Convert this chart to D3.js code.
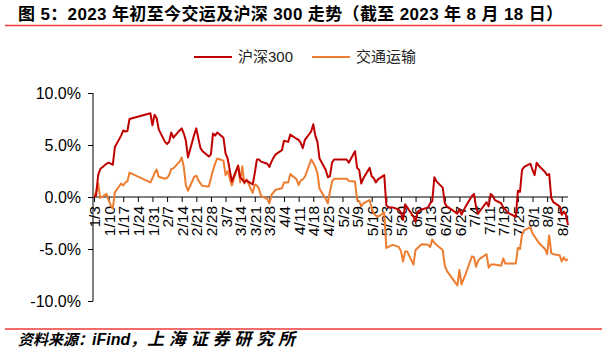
<!DOCTYPE html>
<html><head><meta charset="utf-8">
<script src="https://cdn.jsdelivr.net/npm/d3@7/dist/d3.min.js"></script>
<style>
html,body{margin:0;padding:0;background:#fff;}
svg{display:block;}
text{font-family:"Liberation Sans",Arial,"Noto Sans CJK SC",sans-serif;}
</style></head>
<body>
<svg id="c" width="607" height="355"></svg>
<script>
const titleText = "图 5：2023 年初至今交运及沪深 300 走势（截至 2023 年 8 月 18 日）";
const sourceParts = ["资料来源：", "iFind", "，", "上海证券研究所"];
const seriesNames = ["沪深300", "交通运输"];
const dates = [
"01-03","01-04","01-05","01-06","01-09","01-10","01-11","01-12","01-13","01-16","01-17","01-18","01-19","01-20","01-30","01-31",
"02-01","02-02","02-03","02-06","02-07","02-08","02-09","02-10","02-13","02-14","02-15","02-16","02-17","02-20","02-21","02-22","02-23","02-24","02-27","02-28",
"03-01","03-02","03-03","03-06","03-07","03-08","03-09","03-10","03-13","03-14","03-15","03-16","03-17","03-20","03-21","03-22","03-23","03-24","03-27","03-28","03-29","03-30","03-31",
"04-03","04-04","04-06","04-07","04-10","04-11","04-12","04-13","04-14","04-17","04-18","04-19","04-20","04-21","04-24","04-25","04-26","04-27","04-28",
"05-04","05-05","05-08","05-09","05-10","05-11","05-12","05-15","05-16","05-17","05-18","05-19","05-22","05-23","05-24","05-25","05-26","05-29","05-30","05-31",
"06-01","06-02","06-05","06-06","06-07","06-08","06-09","06-12","06-13","06-14","06-15","06-16","06-19","06-20","06-21","06-26","06-27","06-28","06-29","06-30",
"07-03","07-04","07-05","07-06","07-07","07-10","07-11","07-12","07-13","07-14","07-17","07-18","07-19","07-20","07-21","07-24","07-25","07-26","07-27","07-28","07-31",
"08-01","08-02","08-03","08-04","08-07","08-08","08-09","08-10","08-11","08-14","08-15","08-16","08-17","08-18"];
const hs300 = [
0.0,0.15,2.1,2.7,3.2,3.3,3.2,3.1,4.8,5.9,6.4,6.3,6.35,7.5,8.05,6.9,
7.9,7.6,6.5,5.3,5.1,5.3,6.2,5.7,6.4,6.6,6.1,5.4,3.8,6.0,6.6,5.6,4.7,4.4,3.9,4.1,
6.1,5.9,6.2,5.7,4.2,3.7,2.6,1.5,3.0,1.9,1.7,1.4,1.6,1.2,2.3,3.6,3.6,3.4,3.2,2.9,3.4,3.8,4.1,
4.5,5.4,5.3,6.0,5.6,5.5,5.2,4.7,5.5,6.3,7.0,5.9,5.3,3.7,2.6,1.9,2.0,3.3,3.6,
3.6,3.3,4.4,2.8,2.6,1.3,1.8,2.8,2.0,1.8,1.4,1.7,2.1,-0.8,-1.0,-1.0,-1.0,-1.2,-1.5,-2.2,
-0.7,-1.0,-1.9,-2.4,-1.4,-1.3,-1.2,-1.0,-0.6,-0.4,1.9,1.5,0.9,-0.6,-0.9,-1.6,-1.15,-1.7,-1.3,-0.9,
0.1,0.3,-1.0,-1.6,-1.3,-0.5,-0.9,0.3,0.1,-0.3,-0.6,-1.0,-1.2,-1.5,-1.6,-1.9,0.6,0.5,2.6,2.9,3.2,
2.6,2.1,3.3,3.0,2.4,2.1,2.2,-0.1,-0.5,-0.9,-1.7,-1.4,-1.7,-2.7];
const transport = [
0.0,0.5,1.3,-0.1,0.3,-0.3,-0.8,-1.1,0.45,1.3,1.1,1.4,1.5,2.35,1.4,1.8,
2.3,2.65,1.95,1.75,1.85,2.1,2.7,2.75,3.4,3.8,2.9,1.15,0.6,1.95,2.05,1.6,1.3,1.05,1.0,1.8,
2.6,3.2,3.7,3.5,2.1,2.5,1.8,1.1,3.05,1.4,2.95,1.3,1.7,0.4,1.2,1.1,0.8,0.1,-0.2,-0.6,0.2,0.45,0.7,
0.85,1.4,1.4,2.2,1.7,1.15,1.6,1.7,1.95,3.6,3.3,2.9,2.3,0.8,-0.2,-0.6,0.5,1.5,1.75,
1.75,1.55,1.5,-0.3,-0.4,-0.9,-0.6,-0.3,-1.1,-1.6,-1.8,-1.9,-1.5,-4.9,-4.8,-4.7,-4.6,-4.8,-5.2,-6.2,
-5.25,-5.25,-6.5,-5.1,-4.9,-4.7,-4.55,-4.6,-4.8,-4.1,-4.4,-4.6,-5.1,-6.6,-7.1,-8.5,-7.0,-8.4,-7.9,-7.4,
-5.7,-5.8,-6.7,-6.1,-5.9,-5.5,-6.8,-6.5,-6.5,-6.5,-6.6,-5.9,-6.4,-6.4,-6.4,-6.4,-4.9,-5.0,-3.6,-3.2,-2.9,
-3.5,-3.8,-4.1,-4.4,-5.0,-5.5,-3.7,-5.4,-5.5,-5.6,-6.2,-5.8,-6.1,-6.0];
const xTickLabels = ["1/3","1/10","1/17","1/24","1/31","2/7","2/14","2/21","2/28","3/7","3/14","3/21","3/28","4/4","4/11","4/18","4/25","5/2","5/9","5/16","5/23","5/30","6/6","6/13","6/20","6/27","7/4","7/11","7/18","7/25","8/1","8/8","8/15"];
const yTicks = [-10, -5, 0, 5, 10];
const colors = ["#C00000", "#ED7D31"];

const svg = d3.select("#c");
const parse = d3.timeParse("%Y-%m-%d");
const dts = dates.map(s => parse("2023-" + s));
const x = d3.scaleTime().domain([parse("2023-01-03"), parse("2023-08-18")]).range([94, 568]);
const y = d3.scaleLinear().domain([-10, 10]).range([301, 93]);

// title
svg.append("text").attr("x", 18).attr("y", 20).attr("font-size", 17).attr("font-weight", "bold")
  .attr("textLength", 545).attr("lengthAdjust", "spacing").attr("fill", "#000").text(titleText);
svg.append("line").attr("x1", 5).attr("x2", 602).attr("y1", 25.5).attr("y2", 25.5)
  .attr("stroke", "#EE3B3B").attr("stroke-width", 1.6);

// footer
svg.append("line").attr("x1", 5).attr("x2", 602).attr("y1", 329).attr("y2", 329)
  .attr("stroke", "#EE3B3B").attr("stroke-width", 1.6);
const srcX = [18, 92, 130, 147];
const srcSize = [15, 16, 16, 17];
const srcLen = [null, null, null, 148];
sourceParts.forEach((s, i) => {
  const t = svg.append("text").attr("x", srcX[i]).attr("y", 345).attr("font-size", srcSize[i])
    .attr("font-weight", "bold").attr("font-style", "italic").attr("fill", "#000").text(s);
  if (srcLen[i]) t.attr("textLength", srcLen[i]).attr("lengthAdjust", "spacing");
});

// legend
const legX = [194, 312];
seriesNames.forEach((n, i) => {
  svg.append("line").attr("x1", legX[i]).attr("x2", legX[i] + 38).attr("y1", 57).attr("y2", 57)
    .attr("stroke", colors[i]).attr("stroke-width", 2);
  svg.append("text").attr("x", legX[i] + 44).attr("y", 57).attr("dy", "0.36em")
    .attr("font-size", 15).attr("font-family", "'Noto Sans CJK SC','Liberation Sans',sans-serif")
    .attr("fill", "#222").text(n);
});

// y axis
const gy = svg.append("g").attr("transform", "translate(93,0)")
  .call(d3.axisLeft(y).tickValues(yTicks).tickSize(5).tickPadding(7).tickFormat(d => d.toFixed(1) + "%"));
gy.select(".domain").attr("stroke", "#000").attr("d", `M0,${y(-10)}V${y(10)}`);
gy.selectAll(".tick line").attr("stroke", "#000");
gy.selectAll(".tick text").attr("font-size", 16).attr("fill", "#000")
  .attr("font-family", "'Liberation Sans',Arial,sans-serif");

// x axis at 0
const tickDates = xTickLabels.map(s => { const [m, d] = s.split("/"); return new Date(2023, +m - 1, +d); });
const gx = svg.append("g").attr("transform", `translate(0,${y(0)})`)
  .call(d3.axisBottom(x).tickValues(tickDates).tickSize(5).tickFormat((d, i) => xTickLabels[i]));
gx.select(".domain").attr("stroke", "#000").attr("d", `M93,0H568`);
gx.selectAll(".tick line").attr("stroke", "#000");
gx.selectAll(".tick text").attr("font-size", 15.5).attr("fill", "#000")
  .attr("font-family", "'Liberation Sans',Arial,sans-serif")
  .attr("text-anchor", "end").attr("transform", "rotate(-90)")
  .attr("x", -9).attr("y", 0).attr("dy", "0.36em");

// lines
const line = d3.line().x((d, i) => x(dts[i])).y(d => y(d));
[transport, hs300].forEach((arr, k) => {
  const ci = k === 0 ? 1 : 0;
  svg.append("path").datum(arr).attr("d", line).attr("fill", "none")
    .attr("stroke", colors[ci]).attr("stroke-width", 2).attr("stroke-linejoin", "round");
});
</script>
</body></html>
